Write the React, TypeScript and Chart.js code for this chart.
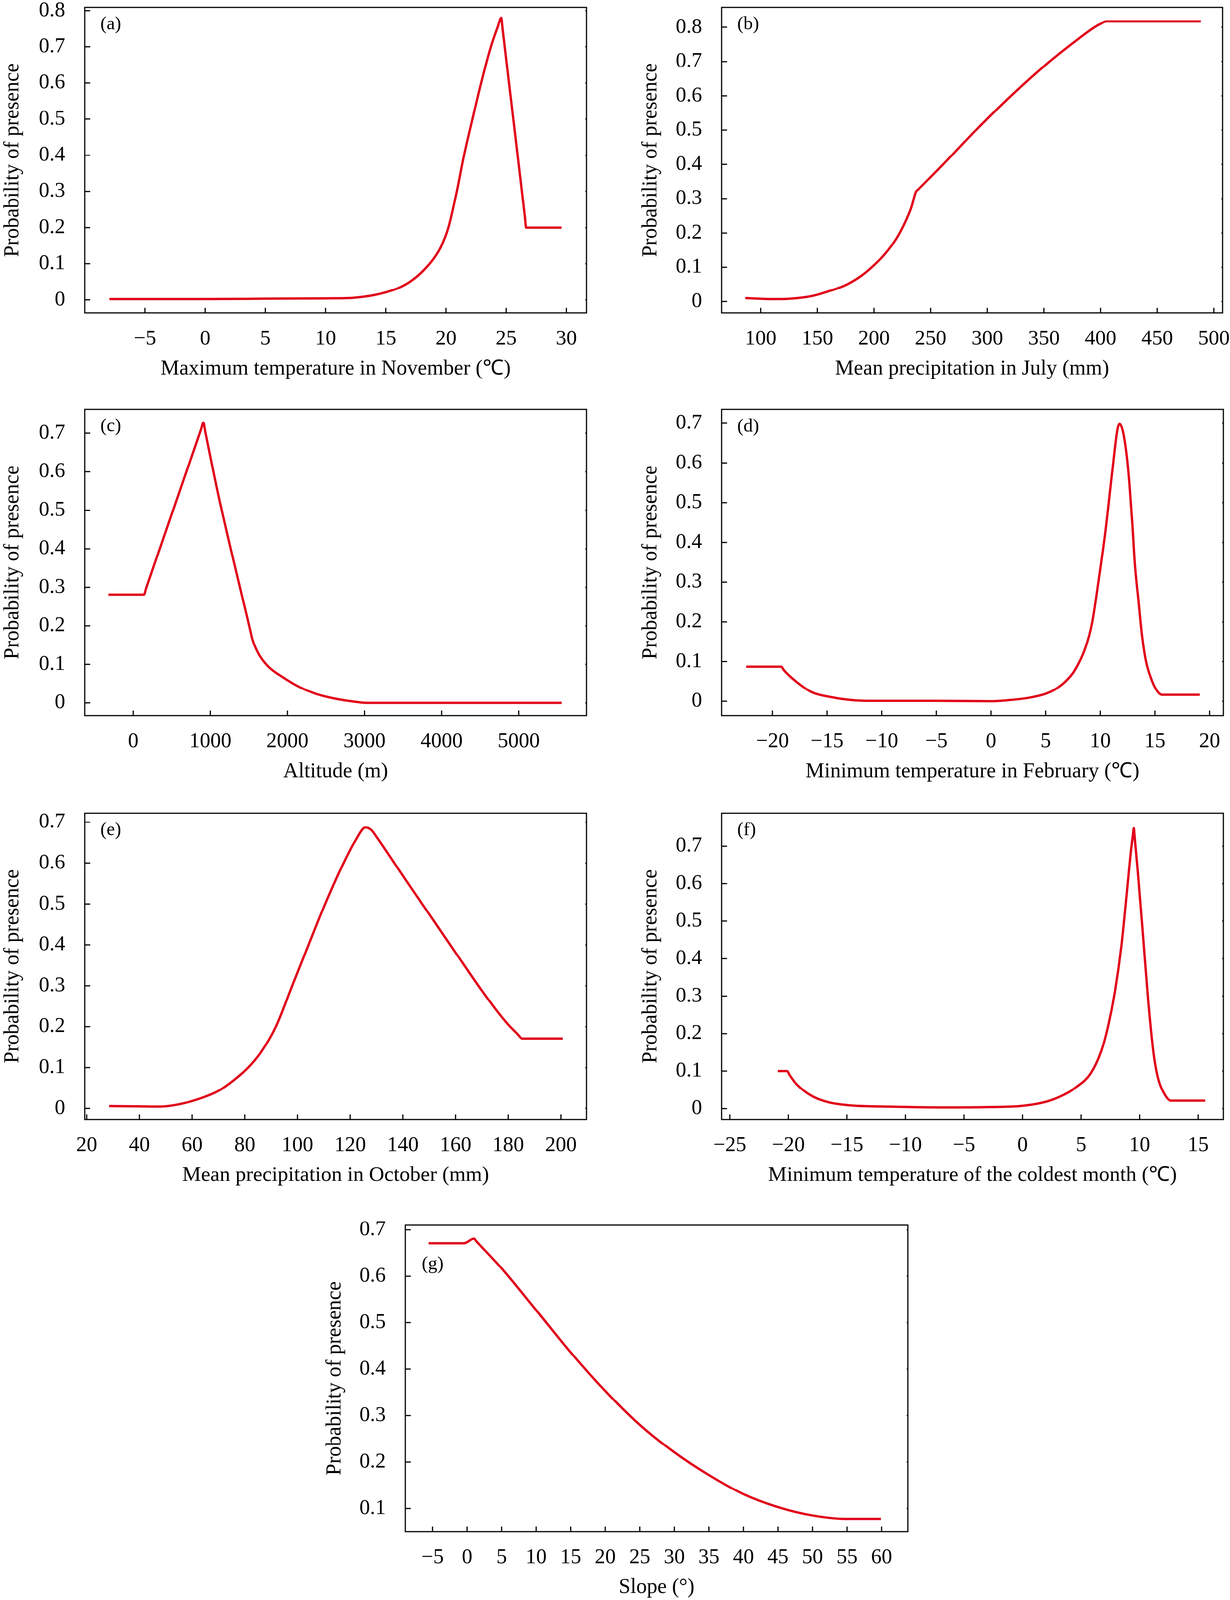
import React, { useEffect, useRef } from 'react';
import { Chart, registerables } from 'chart.js';

Chart.register(...registerables);

// ---------- data ----------
// (a) Maximum temperature in November
const A_X = [-7.95, 0, 5, 10, 12, 13, 14, 15, 16, 17, 18, 19, 19.6, 20.2, 20.9, 21.5, 22.2, 22.92, 23.73, 24.3, 24.59, 24.7, 26.55, 26.66, 29.6];
const A_Y = [0.002, 0.002, 0.003, 0.004, 0.005, 0.008, 0.013, 0.021, 0.032, 0.05, 0.077, 0.115, 0.148, 0.2, 0.3, 0.4, 0.5, 0.6, 0.7, 0.755, 0.78, 0.75, 0.231, 0.2, 0.2];
const A_XTICKS = [-5, 0, 5, 10, 15, 20, 25, 30];
const A_YTICKS = [0, 0.1, 0.2, 0.3, 0.4, 0.5, 0.6, 0.7, 0.8];

// (b) Mean precipitation in July
const B_X = [86.4, 100, 110, 125, 140, 150, 160, 175, 190, 200, 210, 220, 228, 233, 237, 239, 261, 290, 321, 355, 380, 394.6, 400, 405, 488.5];
const B_Y = [0.010, 0.008, 0.007, 0.008, 0.013, 0.02, 0.03, 0.048, 0.078, 0.106, 0.14, 0.185, 0.235, 0.275, 0.32, 0.3267, 0.4, 0.5, 0.6, 0.7, 0.765, 0.8, 0.81, 0.817, 0.817];
const B_XTICKS = [100, 150, 200, 250, 300, 350, 400, 450, 500];
const B_YTICKS = [0, 0.1, 0.2, 0.3, 0.4, 0.5, 0.6, 0.7, 0.8];

// (c) Altitude
const C_X = [-322, 138, 170, 880, 910, 935, 1109, 1520, 1544, 1621, 1748, 1953, 2157, 2362, 2618, 2873, 3027, 5557];
const C_Y = [0.281, 0.281, 0.2995, 0.71, 0.7275, 0.703, 0.535, 0.1865, 0.166, 0.129, 0.095, 0.065, 0.041, 0.024, 0.011, 0.003, 0.0, 0.0];
const C_XTICKS = [0, 1000, 2000, 3000, 4000, 5000];
const C_YTICKS = [0, 0.1, 0.2, 0.3, 0.4, 0.5, 0.6, 0.7];

// (d) Minimum temperature in February
const D_X = [-22.4, -19.17, -19.0, -17.8, -16.4, -14.55, -12.75, -10.95, -5, 0, 1.7, 3.5, 5.0, 5.8, 6.7, 7.64, 8.63, 9.24, 9.85, 10.47, 11.08, 11.57, 11.76, 12.07, 12.44, 12.68, 12.93, 13.17, 13.48, 13.79, 14.15, 14.64, 15.13, 15.62, 19.1];
const D_Y = [0.087, 0.087, 0.08, 0.049, 0.023, 0.01, 0.003, 0.001, 0.001, 0.0, 0.003, 0.009, 0.019, 0.029, 0.047, 0.077, 0.134, 0.196, 0.305, 0.428, 0.575, 0.684, 0.698, 0.679, 0.613, 0.542, 0.447, 0.343, 0.257, 0.172, 0.105, 0.058, 0.029, 0.0165, 0.0165];
const D_XTICKS = [-20, -15, -10, -5, 0, 5, 10, 15, 20];
const D_YTICKS = [0, 0.1, 0.2, 0.3, 0.4, 0.5, 0.6, 0.7];

// (e) Mean precipitation in October
const E_X = [28.5, 40, 48, 55, 62, 70, 76, 81.3, 86, 91.8, 98, 104.2, 110.5, 117.5, 122, 125.8, 128, 130, 135, 140, 150, 160, 170, 176, 180, 183.5, 185.3, 200.7];
const E_Y = [0.0057, 0.005, 0.0045, 0.01, 0.022, 0.043, 0.07, 0.1, 0.136, 0.2, 0.3, 0.4, 0.5, 0.6, 0.655, 0.687, 0.681, 0.664, 0.617, 0.569, 0.475, 0.381, 0.288, 0.236, 0.205, 0.182, 0.171, 0.171];
const E_XTICKS = [20, 40, 60, 80, 100, 120, 140, 160, 180, 200];
const E_YTICKS = [0, 0.1, 0.2, 0.3, 0.4, 0.5, 0.6, 0.7];

// (f) Minimum temperature of the coldest month
const F_X = [-20.9, -20.1, -19.9, -19.3, -17.96, -16.6, -14.9, -11.2, -6.5, -2.8, 0.1, 2.3, 3.96, 4.44, 5.82, 6.73, 7.31, 7.88, 8.45, 8.91, 9.26, 9.42, 9.5, 9.58, 9.83, 10.29, 10.74, 11.2, 11.55, 12.12, 12.69, 15.6];
const F_Y = [0.1, 0.1, 0.09, 0.065, 0.033, 0.017, 0.009, 0.005, 0.003, 0.004, 0.0076, 0.021, 0.044, 0.054, 0.094, 0.154, 0.22, 0.31, 0.436, 0.577, 0.688, 0.728, 0.748, 0.722, 0.637, 0.461, 0.285, 0.145, 0.084, 0.039, 0.021, 0.021];
const F_XTICKS = [-25, -20, -15, -10, -5, 0, 5, 10, 15];
const F_YTICKS = [0, 0.1, 0.2, 0.3, 0.4, 0.5, 0.6, 0.7];

// (g) Slope
const G_X = [-5.57, -0.43, 1.0, 1.3, 5, 10, 15, 20, 25, 30, 35, 40, 45, 50, 55, 59.9];
const G_Y = [0.671, 0.671, 0.681, 0.676, 0.617, 0.527, 0.436, 0.353, 0.28, 0.221, 0.172, 0.131, 0.103, 0.085, 0.0775, 0.0775];
const G_XTICKS = [-5, 0, 5, 10, 15, 20, 25, 30, 35, 40, 45, 50, 55, 60];
const G_YTICKS = [0.1, 0.2, 0.3, 0.4, 0.5, 0.6, 0.7];

const Y_TITLE = 'Probability of presence';

// ---------- styling / layout ----------
const PAGE_W = 3150;
const PAGE_H = 4132;
const RED = '#E1001A';
const FONT = "'Liberation Serif', 'Times New Roman', serif";
const FS = 54;
const LEFT_SPACE = 217;
const TOP_SPACE = 19;
const BOTTOM_SPACE = 200;

type Panel = {
  label: string;
  labelDx: number;
  labelDy: number;
  xTitle: string;
  xs: number[];
  ys: number[];
  xTicks: number[];
  yTicks: number[];
  xMin: number;
  xMax: number;
  yMin: number;
  yMax: number;
  box: [number, number, number, number];
  rightPad: number;
  yTitlePad: number;
};

const PANELS: Panel[] = [
  { label: '(a)', labelDx: 40, labelDy: 57, xTitle: 'Maximum temperature in November (\u2103)', xs: A_X, ys: A_Y, xTicks: A_XTICKS, yTicks: A_YTICKS, xMin: -10.0, xMax: 31.67, yMin: -0.036, yMax: 0.809, box: [217, 19, 1502, 808], rightPad: 30, yTitlePad: 0 },
  { label: '(b)', labelDx: 40, labelDy: 57, xTitle: 'Mean precipitation in July (mm)', xs: B_X, ys: B_Y, xTicks: B_XTICKS, yTicks: B_YTICKS, xMin: 65.5, xMax: 507.7, yMin: -0.033, yMax: 0.858, box: [1848, 19, 3131, 808], rightPad: 18, yTitlePad: 3 },
  { label: '(c)', labelDx: 40, labelDy: 57, xTitle: 'Altitude (m)', xs: C_X, ys: C_Y, xTicks: C_XTICKS, yTicks: C_YTICKS, xMin: -629, xMax: 5879, yMin: -0.033, yMax: 0.762, box: [217, 1057, 1502, 1848], rightPad: 30, yTitlePad: 0 },
  { label: '(d)', labelDx: 40, labelDy: 58, xTitle: 'Minimum temperature in February (\u2103)', xs: D_X, ys: D_Y, xTicks: D_XTICKS, yTicks: D_YTICKS, xMin: -24.65, xMax: 21.26, yMin: -0.036, yMax: 0.735, box: [1848, 1057, 3133, 1848], rightPad: 16, yTitlePad: 3 },
  { label: '(e)', labelDx: 40, labelDy: 57, xTitle: 'Mean precipitation in October (mm)', xs: E_X, ys: E_Y, xTicks: E_XTICKS, yTicks: E_YTICKS, xMin: 19.25, xMax: 209.7, yMin: -0.027, yMax: 0.722, box: [217, 2100, 1502, 2891], rightPad: 30, yTitlePad: 0 },
  { label: '(f)', labelDx: 40, labelDy: 57, xTitle: 'Minimum temperature of the coldest month (\u2103)', xs: F_X, ys: F_Y, xTicks: F_XTICKS, yTicks: F_YTICKS, xMin: -25.7, xMax: 17.15, yMin: -0.029, yMax: 0.788, box: [1848, 2100, 3133, 2891], rightPad: 16, yTitlePad: 3 },
  { label: '(g)', labelDx: 42, labelDy: 114, xTitle: 'Slope (\u00b0)', xs: G_X, ys: G_Y, xTicks: G_XTICKS, yTicks: G_YTICKS, xMin: -8.94, xMax: 63.8, yMin: 0.0505, yMax: 0.710, box: [1038, 3164, 2325, 3955], rightPad: 30, yTitlePad: 4 },
];

const fmtY = (v: number) => (v === 0 ? '0' : v.toFixed(1));
const fmtX = (v: number) => (v < 0 ? '\u2212' + String(Math.abs(v)) : String(v));

const framePlugin = {
  id: 'frame',
  afterDraw(chart: any, _args: any, opts: any) {
    const { ctx, chartArea: a, scales } = chart;
    ctx.save();
    ctx.strokeStyle = '#000';
    ctx.lineWidth = 3;
    ctx.strokeRect(a.left, a.top, a.right - a.left, a.bottom - a.top);
    ctx.beginPath();
    scales.x.ticks.forEach((t: any) => {
      const px = scales.x.getPixelForValue(t.value);
      ctx.moveTo(px, a.bottom);
      ctx.lineTo(px, a.bottom - 13);
    });
    scales.y.ticks.forEach((t: any) => {
      const py = scales.y.getPixelForValue(t.value);
      ctx.moveTo(a.left, py);
      ctx.lineTo(a.left + 14, py);
      ctx.moveTo(a.right, py);
      ctx.lineTo(a.right - 3, py);
    });
    ctx.stroke();
    ctx.fillStyle = '#000';
    ctx.font = `48px ${FONT}`;
    ctx.textAlign = 'left';
    ctx.textBaseline = 'alphabetic';
    ctx.fillText(opts.label, a.left + opts.dx, a.top + opts.dy);
    ctx.restore();
  },
};

function PanelChart({ p }: { p: Panel }) {
  const ref = useRef<HTMLCanvasElement | null>(null);
  const [l, t, r, b] = p.box;
  const w = LEFT_SPACE + (r - l) + p.rightPad;
  const h = TOP_SPACE + (b - t) + BOTTOM_SPACE;
  const left = l - LEFT_SPACE;
  const top = t - TOP_SPACE;

  useEffect(() => {
    if (!ref.current) return;
    const chart = new Chart(ref.current, {
      type: 'line',
      data: {
        datasets: [
          {
            data: p.xs.map((x, i) => ({ x, y: p.ys[i] })),
            borderColor: RED,
            borderWidth: 6,
            pointRadius: 0,
            pointHoverRadius: 0,
            fill: false,
            cubicInterpolationMode: 'monotone',
            borderJoinStyle: 'miter',
          },
        ],
      },
      options: {
        animation: false,
        responsive: false,
        devicePixelRatio: 1,
        events: [],
        layout: { padding: { top: TOP_SPACE, right: p.rightPad, left: 0, bottom: 0 } },
        plugins: {
          legend: { display: false },
          tooltip: { enabled: false },
          frame: { label: p.label, dx: p.labelDx, dy: p.labelDy },
        } as any,
        scales: {
          x: {
            type: 'linear',
            position: 'bottom',
            min: p.xMin,
            max: p.xMax,
            grid: { display: false },
            border: { display: false },
            afterBuildTicks: (s: any) => {
              s.ticks = p.xTicks.map((v) => ({ value: v }));
            },
            afterFit: (s: any) => {
              s.height = BOTTOM_SPACE;
              s.paddingLeft = 0;
              s.paddingRight = 0;
              s.paddingTop = 0;
              s.paddingBottom = 0;
            },
            ticks: {
              autoSkip: false,
              maxRotation: 0,
              minRotation: 0,
              padding: 27,
              color: '#000',
              font: { family: FONT, size: FS },
              callback: (v: any) => fmtX(Number(v)),
            },
            title: {
              display: true,
              text: p.xTitle,
              color: '#000',
              font: { family: FONT, size: FS },
              padding: { top: 0, bottom: 23 },
            },
          },
          y: {
            type: 'linear',
            position: 'left',
            min: p.yMin,
            max: p.yMax,
            grid: { display: false },
            border: { display: false },
            afterBuildTicks: (s: any) => {
              s.ticks = p.yTicks.map((v) => ({ value: v }));
            },
            afterFit: (s: any) => {
              s.width = LEFT_SPACE;
              s.paddingLeft = 0;
              s.paddingRight = 0;
              s.paddingTop = 0;
              s.paddingBottom = 0;
            },
            ticks: {
              padding: 42,
              color: '#000',
              font: { family: FONT, size: FS },
              callback: (v: any) => fmtY(Number(v)),
            },
            title: {
              display: true,
              text: Y_TITLE,
              color: '#000',
              font: { family: FONT, size: FS },
              padding: { top: p.yTitlePad, bottom: 0 },
            },
          },
        },
      } as any,
      plugins: [framePlugin as any],
    });
    return () => chart.destroy();
  }, [p]);

  return (
    <canvas
      ref={ref}
      width={w}
      height={h}
      style={{ position: 'absolute', left, top, width: w, height: h, display: 'block' }}
    />
  );
}

export default function App() {
  useEffect(() => {
    document.documentElement.style.overflow = 'hidden';
    document.body.style.overflow = 'hidden';
  }, []);
  const vw = typeof window !== 'undefined' && window.innerWidth ? window.innerWidth : PAGE_W;
  const vh = typeof window !== 'undefined' && window.innerHeight ? window.innerHeight : PAGE_H;
  const sx = Math.min(1, vw / PAGE_W);
  const sy = Math.min(1, vh / PAGE_H);
  return (
    <div
      style={{
        position: 'fixed',
        left: 0,
        top: 0,
        width: PAGE_W,
        height: PAGE_H,
        background: '#fff',
        overflow: 'hidden',
        transform: `scale(${sx}, ${sy})`,
        transformOrigin: '0 0',
      }}
    >
      {PANELS.map((p) => (
        <PanelChart key={p.label} p={p} />
      ))}
    </div>
  );
}
